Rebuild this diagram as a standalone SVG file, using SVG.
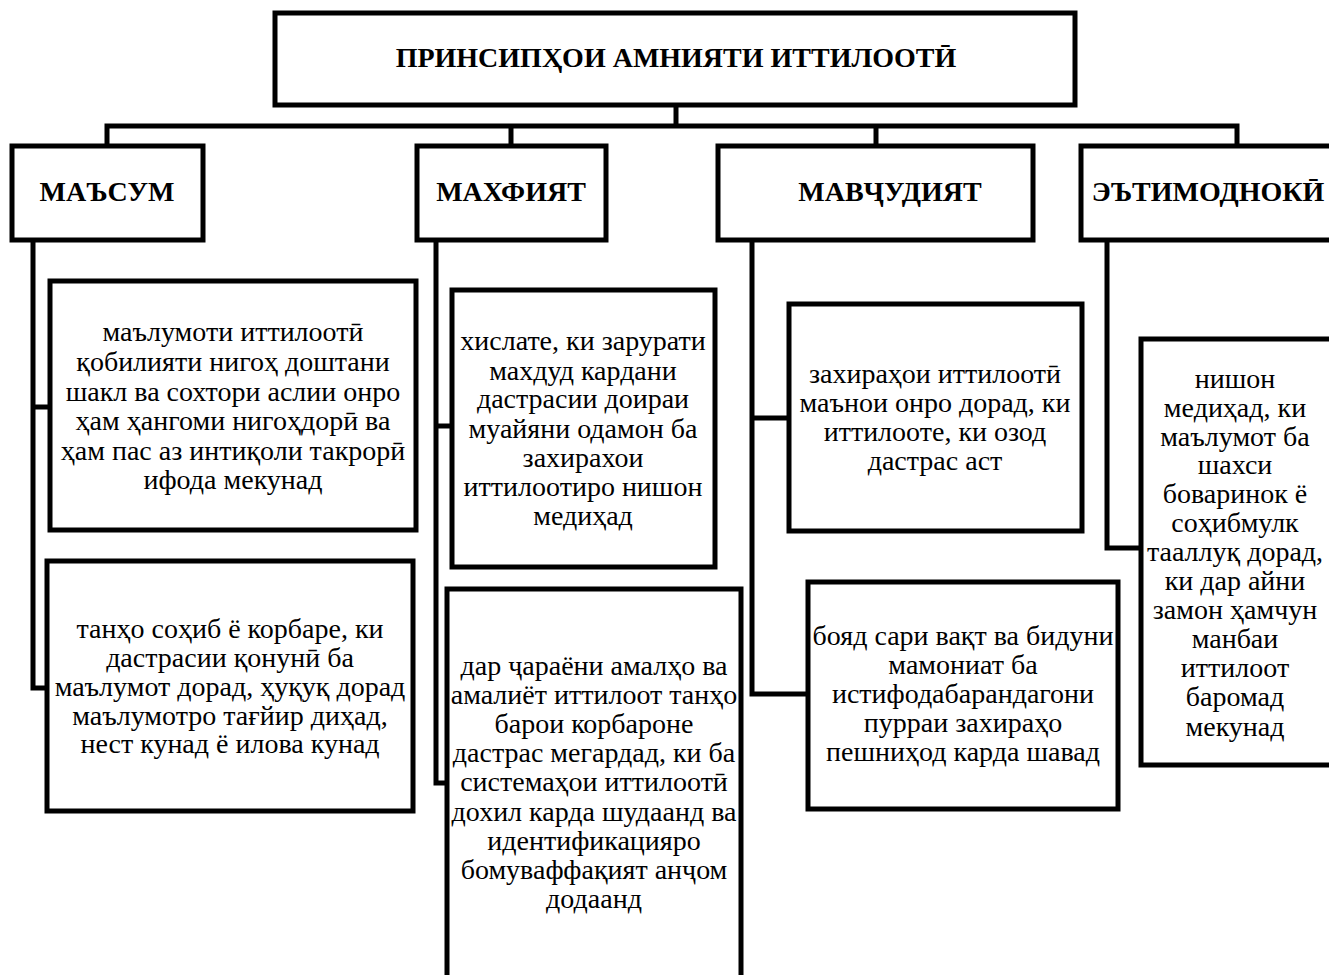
<svg xmlns="http://www.w3.org/2000/svg" width="1329" height="975" viewBox="0 0 1329 975">
<style>
.box{fill:#fff;stroke:#000;stroke-width:5}
.con{fill:none;stroke:#000;stroke-width:5}
text{font-family:'Liberation Serif','Times New Roman',Times,'DejaVu Serif',serif;fill:#000;text-anchor:middle;font-size:28px}
.h{font-weight:bold}
</style>
<rect x="0" y="0" width="1329" height="975" fill="#fff"/>
<g id="connectors">
<polyline class="con" points="676,105 676,126"/>
<polyline class="con" points="107,146 107,126 1237,126 1237,146"/>
<polyline class="con" points="511,126 511,146"/>
<polyline class="con" points="876,126 876,146"/>
<polyline class="con" points="33,240 33,688 47,688"/>
<polyline class="con" points="33,407 50,407"/>
<polyline class="con" points="436,240 436,783 447,783"/>
<polyline class="con" points="436,426 452,426"/>
<polyline class="con" points="752,240 752,694 808,694"/>
<polyline class="con" points="752,418 789,418"/>
<polyline class="con" points="1107,240 1107,548 1141,548"/>
</g>
<g id="root">
<rect class="box" x="275" y="13" width="800" height="92"/>
<text class="h" x="676" y="67">ПРИНСИПҲОИ АМНИЯТИ ИТТИЛООТӢ</text>
</g>
<g id="masum">
<rect class="box" x="12" y="146" width="191" height="94"/>
<text class="h" x="107" y="201">МАЪСУМ</text>
</g>
<g id="mahfiyat">
<rect class="box" x="417" y="146" width="189" height="94"/>
<text class="h" x="511" y="201">МАХФИЯТ</text>
</g>
<g id="mavjudiyat">
<rect class="box" x="718" y="146" width="315" height="94"/>
<text class="h" x="890" y="201">МАВҶУДИЯТ</text>
</g>
<g id="etimodnoki">
<rect class="box" x="1081" y="146" width="260" height="94"/>
<text class="h" x="1208" y="201">ЭЪТИМОДНОКӢ</text>
</g>
<g id="masum-1">
<rect class="box" x="50" y="281" width="366" height="249"/>
<text x="233" y="341">маълумоти иттилоотӣ</text>
<text x="233" y="371">қобилияти нигоҳ доштани</text>
<text x="233" y="401">шакл ва сохтори аслии онро</text>
<text x="233" y="430">ҳам ҳангоми нигоҳдорӣ ва</text>
<text x="233" y="460">ҳам пас аз интиқоли такрорӣ</text>
<text x="233" y="489">ифода мекунад</text>
</g>
<g id="masum-2">
<rect class="box" x="47" y="561" width="366" height="250"/>
<text x="230" y="638">танҳо соҳиб ё корбаре, ки</text>
<text x="230" y="667">дастрасии қонунӣ ба</text>
<text x="230" y="696">маълумот дорад, ҳуқуқ дорад</text>
<text x="230" y="725">маълумотро тағйир диҳад,</text>
<text x="230" y="753">нест кунад ё илова кунад</text>
</g>
<g id="mahfiyat-1">
<rect class="box" x="452" y="290" width="263" height="277"/>
<text x="583" y="350">хислате, ки зарурати</text>
<text x="583" y="380">махдуд кардани</text>
<text x="583" y="408">дастрасии доираи</text>
<text x="583" y="438">муайяни одамон ба</text>
<text x="583" y="467">захирахои</text>
<text x="583" y="496">иттилоотиро нишон</text>
<text x="583" y="525">медиҳад</text>
</g>
<g id="mahfiyat-2">
<rect class="box" x="447" y="589" width="294" height="400"/>
<text x="594" y="675">дар ҷараёни амалҳо ва</text>
<text x="594" y="704">амалиёт иттилоот танҳо</text>
<text x="594" y="733">барои корбароне</text>
<text x="594" y="762">дастрас мегардад, ки ба</text>
<text x="594" y="791">системаҳои иттилоотӣ</text>
<text x="594" y="821">дохил карда шудаанд ва</text>
<text x="594" y="850">идентификацияро</text>
<text x="594" y="879">бомуваффақият анҷом</text>
<text x="594" y="908">додаанд</text>
</g>
<g id="mavjudiyat-1">
<rect class="box" x="789" y="304" width="293" height="227"/>
<text x="935" y="383">захираҳои иттилоотӣ</text>
<text x="935" y="412">маънои онро дорад, ки</text>
<text x="935" y="441">иттилооте, ки озод</text>
<text x="935" y="470">дастрас аст</text>
</g>
<g id="mavjudiyat-2">
<rect class="box" x="808" y="582" width="310" height="227"/>
<text x="963" y="645">бояд сари вақт ва бидуни</text>
<text x="963" y="674">мамониат ба</text>
<text x="963" y="703">истифодабарандагони</text>
<text x="963" y="732">пурраи захираҳо</text>
<text x="963" y="761">пешниҳод карда шавад</text>
</g>
<g id="etimodnoki-1">
<rect class="box" x="1141" y="339" width="200" height="426"/>
<text x="1235" y="388">нишон</text>
<text x="1235" y="417">медиҳад, ки</text>
<text x="1235" y="446">маълумот ба</text>
<text x="1235" y="474">шахси</text>
<text x="1235" y="503">боваринок ё</text>
<text x="1235" y="532">соҳибмулк</text>
<text x="1235" y="561">тааллуқ дорад,</text>
<text x="1235" y="590">ки дар айни</text>
<text x="1235" y="619">замон ҳамчун</text>
<text x="1235" y="648">манбаи</text>
<text x="1235" y="677">иттилоот</text>
<text x="1235" y="706">баромад</text>
<text x="1235" y="736">мекунад</text>
</g>
</svg>
